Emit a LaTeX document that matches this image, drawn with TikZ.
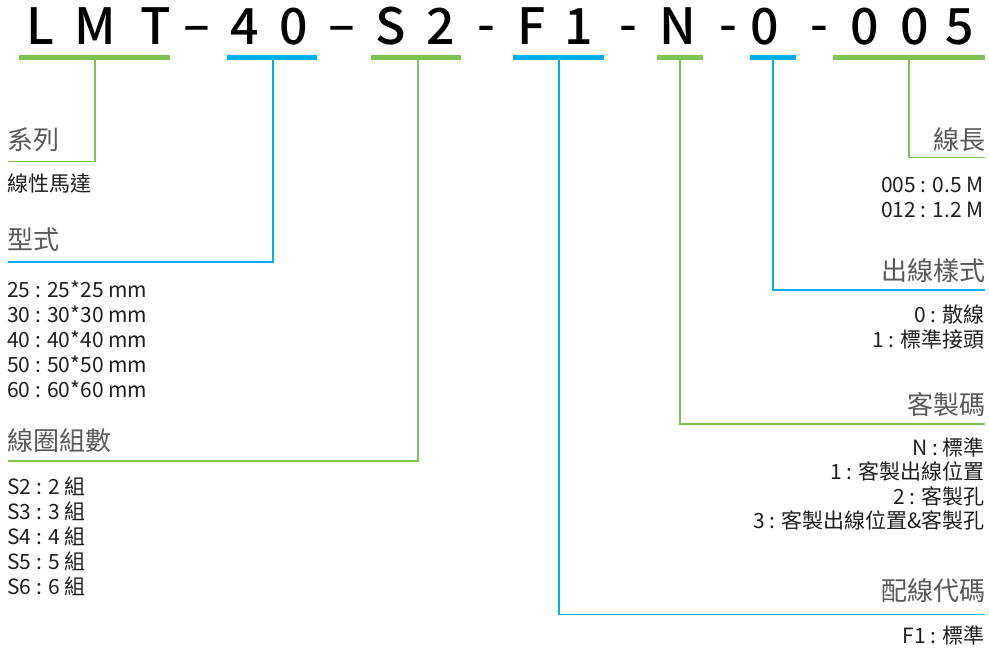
\documentclass[tikz,border=0pt]{standalone}
\usepackage{fontspec}
\setmainfont{Noto Sans CJK TC}
\newfontfamily\codefont{Noto Sans CJK TC Medium}
\definecolor{lg}{HTML}{7DC352}
\definecolor{lb}{HTML}{00AEEF}
\definecolor{hd}{HTML}{595959}
\definecolor{tx}{HTML}{1E1E1E}
\begin{document}
\begin{tikzpicture}[x=1pt,y=-1pt,
  code/.style={font=\codefont\fontsize{50}{50}\selectfont, text=black, inner sep=0pt, anchor=base, text height=37pt, text depth=0pt},
  bar/.style={line width=5pt},
  conn/.style={line width=1.4pt},
  headL/.style={font=\fontsize{26}{30}\selectfont, text=hd, inner sep=0pt, anchor=base west},
  headR/.style={font=\fontsize{26}{30}\selectfont, text=hd, inner sep=0pt, anchor=base east},
  bodyL/.style={font=\fontsize{21}{25}\selectfont, text=tx, inner sep=0pt, anchor=base west},
  bodyR/.style={font=\fontsize{21}{25}\selectfont, text=tx, inner sep=0pt, anchor=base east}]
\useasboundingbox (0,0) rectangle (989,650);
% code letters
\node[code] (cL) at (40,45) {L};
\node[code] (cM) at (95,45) {M};
\node[code] (cT) at (156,45) {T};
\node[code] (d1) at (197,43) {–};
\node[code] (c4) at (245,45) {4};
\node[code] (c0a) at (294,45) {0};
\node[code] (d2) at (342,43) {–};
\node[code] (cS) at (391,45) {S};
\node[code] (c2) at (441,45) {2};
\node[code] (d3) at (486,43) {-};
\node[code] (cF) at (532,45) {F};
\node[code] (c1) at (579,45) {1};
\node[code] (d4) at (628,43) {-};
\node[code] (cN) at (678,45) {N};
\node[code] (d5) at (728,43) {-};
\node[code] (c0b) at (765,45) {0};
\node[code] (d6) at (819,43) {-};
\node[code] (c0c) at (865,45) {0};
\node[code] (c0d) at (915,45) {0};
\node[code] (c5) at (960,45) {5};
% underline bars
\coordinate (b1a) at (19,57.5);  \coordinate (b1b) at (170,57.5); \coordinate (s1) at (95,60);
\coordinate (b2a) at (227,57.5); \coordinate (b2b) at (317,57.5); \coordinate (s2) at (273,60);
\coordinate (b3a) at (371,57.5); \coordinate (b3b) at (461,57.5); \coordinate (s3) at (418,60);
\coordinate (b4a) at (513,57.5); \coordinate (b4b) at (604,57.5); \coordinate (s4) at (559,60);
\coordinate (b5a) at (657,57.5); \coordinate (b5b) at (703,57.5); \coordinate (s5) at (680,60);
\coordinate (b6a) at (750,57.5); \coordinate (b6b) at (796,57.5); \coordinate (s6) at (773,60);
\coordinate (b7a) at (833,57.5); \coordinate (b7b) at (985,57.5); \coordinate (s7) at (909,60);
\draw[bar,lg] (b1a) -- (b1b);
\draw[bar,lb] (b2a) -- (b2b);
\draw[bar,lg] (b3a) -- (b3b);
\draw[bar,lb] (b4a) -- (b4b);
\draw[bar,lg] (b5a) -- (b5b);
\draw[bar,lb] (b6a) -- (b6b);
\draw[bar,lg] (b7a) -- (b7b);
% connector ends
\coordinate (e1) at (8,161.5);
\coordinate (e2) at (8,262);
\coordinate (e3) at (8,461);
\coordinate (e4) at (985,614.5);
\coordinate (e5) at (985,424);
\coordinate (e6) at (985,290);
\coordinate (e7) at (985,157.5);
\draw[conn,lg] (s1) |- (e1);
\draw[conn,lb] (s2) |- (e2);
\draw[conn,lg] (s3) |- (e3);
\draw[conn,lb] (s4) |- (e4);
\draw[conn,lg] (s5) |- (e5);
\draw[conn,lb] (s6) |- (e6);
\draw[conn,lg] (s7) |- (e7);
% left texts
\node[headL] (h1) at (7,150) {系列};
\node[bodyL] (t1) at (7,192) {線性馬達};
\node[headL] (h2) at (7,250) {型式};
\node[bodyL] (t2a) at (7,297) {25 : 25*25 mm};
\node[bodyL] (t2b) at (7,322) {30 : 30*30 mm};
\node[bodyL] (t2c) at (7,347) {40 : 40*40 mm};
\node[bodyL] (t2d) at (7,372) {50 : 50*50 mm};
\node[bodyL] (t2e) at (7,397) {60 : 60*60 mm};
\node[headL] (h3) at (7,450) {線圈組數};
\node[bodyL] (t3a) at (7,494) {S2 : 2 組};
\node[bodyL] (t3b) at (7,519) {S3 : 3 組};
\node[bodyL] (t3c) at (7,544) {S4 : 4 組};
\node[bodyL] (t3d) at (7,569) {S5 : 5 組};
\node[bodyL] (t3e) at (7,594) {S6 : 6 組};
% right texts
\node[headR] (h7) at (986,150) {線長};
\node[bodyR] (t7a) at (984,193) {005 : 0.5 M};
\node[bodyR] (t7b) at (984,218) {012 : 1.2 M};
\node[headR] (h6) at (986,280) {出線樣式};
\node[bodyR] (t6a) at (985,322) {0 : 散線};
\node[bodyR] (t6b) at (985,347) {1 : 標準接頭};
\node[headR] (h5) at (986,414) {客製碼};
\node[bodyR] (t5a) at (985,455) {N : 標準};
\node[bodyR] (t5b) at (985,479) {1 : 客製出線位置};
\node[bodyR] (t5c) at (985,504) {2 : 客製孔};
\node[bodyR] (t5d) at (985,528) {3 : 客製出線位置\&客製孔};
\node[headR] (h4) at (986,600) {配線代碼};
\node[bodyR] (t4a) at (985,643) {F1 : 標準};
\end{tikzpicture}
\end{document}
